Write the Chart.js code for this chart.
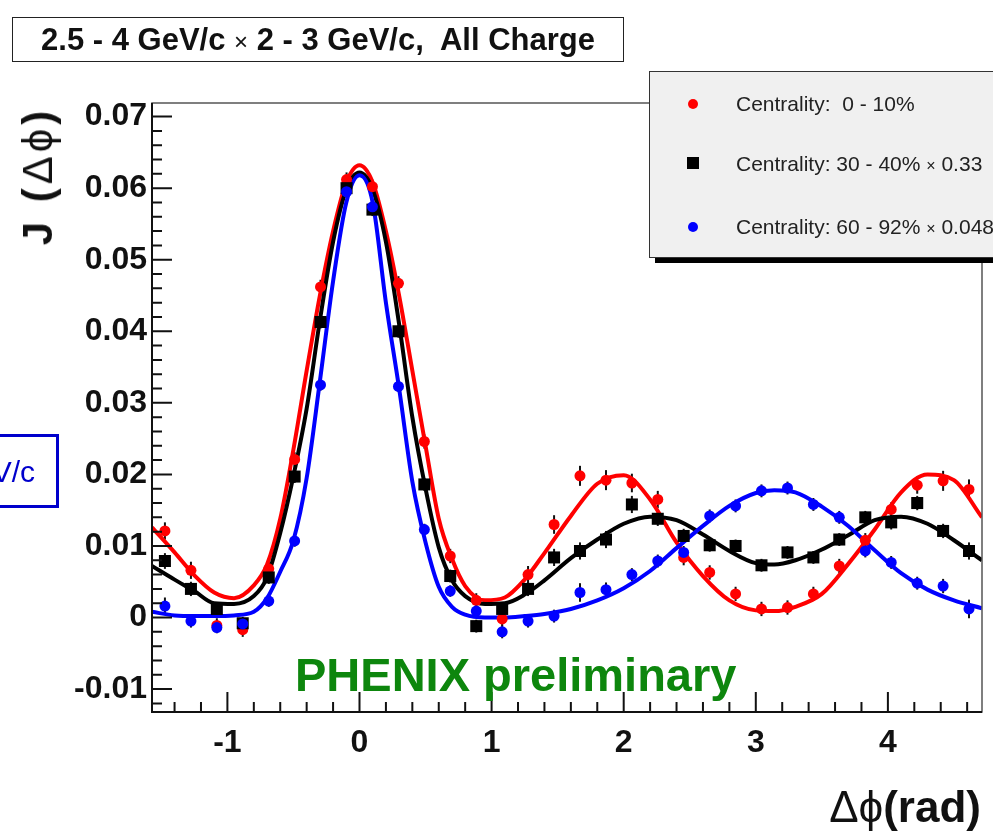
<!DOCTYPE html>
<html>
<head>
<meta charset="utf-8">
<script src="https://cdn.jsdelivr.net/npm/chart.js@4.4.1/dist/chart.umd.min.js"></script>
<style>
  body { margin: 0; background: #fff; }
  #wrap { position: relative; width: 993px; height: 840px; overflow: hidden; font-family: "Liberation Sans", Arial, sans-serif; }
  #chart { position: absolute; left: 0; top: 0; }
  .txt { position: absolute; white-space: pre; }
  #title { left: 12px; top: 17px; width: 610px; height: 43px; border: 1.5px solid #222; text-align: center;
           font-weight: bold; font-size: 31px; line-height: 43px; color: #111; }
  #legend { left: 649px; top: 71px; width: 360px; height: 185px; background: #f0f0f0; border: 1.5px solid #333;
            box-shadow: 6px 5px 0 0 #000; }
  .mk { position: absolute; }
  .lab { position: absolute; left: 86px; font-size: 21px; color: #222; line-height: 24px; white-space: pre; }
  #phenix { left: 295px; top: 647px; font-size: 47px; font-weight: bold; color: #0d860d; }
  #bluebox { left: -6px; top: 434px; width: 59px; height: 68px; border: 3px solid #0000cc; }
  #bluetxt { right: 958px; top: 455px; font-size: 30px; color: #0000cc; }
  #ytitle { left: 38px; top: 176px; transform: translate(-50%, -50%) rotate(-90deg); font-size: 42px; font-weight: bold; color: #111; letter-spacing: 4px; }
  #xtitle { right: 12px; top: 782px; font-size: 44px; color: #111; }
</style>
</head>
<body>
<div id="wrap">
  <canvas id="chart" width="993" height="840"></canvas>
  <div class="txt" id="title">2.5 - 4 GeV/c <span style="font-weight:normal;font-size:24px">×</span> 2 - 3 GeV/c,  All Charge</div>
  <div class="txt" id="legend">
    <div class="mk" style="left:38px;top:27px;width:10px;height:10px;border-radius:50%;background:#ff0000"></div>
    <div class="lab" style="top:20px">Centrality:  0 - 10%</div>
    <div class="mk" style="left:37px;top:85px;width:12px;height:12px;background:#000"></div>
    <div class="lab" style="top:80px">Centrality: 30 - 40% <span style="font-size:16px">×</span> 0.33</div>
    <div class="mk" style="left:38px;top:150px;width:10px;height:10px;border-radius:50%;background:#0000ff"></div>
    <div class="lab" style="top:143px">Centrality: 60 - 92% <span style="font-size:16px">×</span> 0.048</div>
  </div>
  <div class="txt" id="phenix">PHENIX preliminary</div>
  <div class="txt" id="bluebox"></div>
  <div class="txt" id="bluetxt">GeV/c</div>
  <div class="txt" id="ytitle">J (<span style="font-weight:normal">Δϕ</span>)</div>
  <div class="txt" id="xtitle">Δϕ<b>(rad)</b></div>
</div>
<script>
// --- DATA ---
// bin centres of the Δφ histogram (rad)
const binX = [-1.473, -1.276, -1.080, -0.884, -0.687, -0.491, -0.295, -0.098,
              0.098, 0.295, 0.491, 0.687, 0.884, 1.080, 1.276, 1.473,
              1.669, 1.866, 2.062, 2.258, 2.454, 2.651, 2.847, 3.043,
              3.240, 3.436, 3.632, 3.829, 4.025, 4.222, 4.418, 4.614];

// Centrality 0 - 10%
const red = [0.0121, 0.0066, -0.0011, -0.0017, 0.0068, 0.0221, 0.0462, 0.0612,
             0.0602, 0.0467, 0.0246, 0.0086, 0.0024, -0.0002, 0.0060, 0.0130,
             0.0198, 0.0192, 0.0188, 0.0165, 0.0084, 0.0063, 0.0033, 0.0012,
             0.0014, 0.0033, 0.0072, 0.0108, 0.0151, 0.0185, 0.0191, 0.0179];
const redErr = [0.0012, 0.0012, 0.0010, 0.0010, 0.0010, 0.0010, 0.0010, 0.0010,
                0.0010, 0.0010, 0.0010, 0.0010, 0.0010, 0.0010, 0.0012, 0.0013,
                0.0014, 0.0014, 0.0013, 0.0012, 0.0011, 0.0010, 0.0010, 0.0010,
                0.0010, 0.0010, 0.0010, 0.0010, 0.0010, 0.0012, 0.0014, 0.0014];

// Centrality 30 - 40% x 0.33
const black = [0.0079, 0.0040, 0.0012, -0.0008, 0.0056, 0.0197, 0.0413, 0.0600,
               0.0570, 0.0400, 0.0186, 0.0058, -0.0012, 0.0012, 0.0040, 0.0084,
               0.0093, 0.0109, 0.0158, 0.0138, 0.0114, 0.0101, 0.0100, 0.0073,
               0.0091, 0.0084, 0.0109, 0.0140, 0.0133, 0.0160, 0.0121, 0.0093];
const blackErr = [0.0011, 0.0010, 0.0009, 0.0009, 0.0009, 0.0009, 0.0009, 0.0009,
                  0.0009, 0.0009, 0.0009, 0.0009, 0.0009, 0.0009, 0.0010, 0.0012,
                  0.0012, 0.0012, 0.0012, 0.0010, 0.0010, 0.0009, 0.0009, 0.0009,
                  0.0009, 0.0009, 0.0009, 0.0009, 0.0010, 0.0010, 0.0010, 0.0012];

// Centrality 60 - 92% x 0.048
const blue = [0.0016, -0.0005, -0.0014, -0.0009, 0.0023, 0.0107, 0.0325, 0.0595,
              0.0574, 0.0323, 0.0123, 0.0037, 0.0009, -0.0020, -0.0005, 0.0002,
              0.0035, 0.0039, 0.0060, 0.0079, 0.0091, 0.0142, 0.0156, 0.0177,
              0.0181, 0.0158, 0.0140, 0.0093, 0.0077, 0.0048, 0.0044, 0.0012];
const blueErr = [0.0012, 0.0009, 0.0008, 0.0008, 0.0008, 0.0008, 0.0008, 0.0008,
                 0.0008, 0.0008, 0.0008, 0.0008, 0.0008, 0.0009, 0.0009, 0.0009,
                 0.0013, 0.0010, 0.0009, 0.0009, 0.0009, 0.0009, 0.0009, 0.0009,
                 0.0009, 0.0009, 0.0009, 0.0009, 0.0009, 0.0009, 0.0010, 0.0013];

// fit curves
const fitX = [-1.571, -1.4, -1.25, -1.1, -0.95, -0.8, -0.7, -0.6, -0.5, -0.4, -0.3, -0.2, -0.1, 0,
              0.1, 0.2, 0.3, 0.4, 0.5, 0.6, 0.7, 0.8, 0.95, 1.1, 1.25, 1.4, 1.6, 1.8, 2.0,
              2.2, 2.4, 2.6, 2.8, 3.0, 3.14, 3.3, 3.5, 3.7, 3.9, 4.1, 4.3, 4.5, 4.712];
const redFit = [0.0126, 0.0091, 0.0059, 0.0035, 0.0027, 0.0045, 0.0074, 0.0138, 0.0235, 0.0345, 0.0450, 0.0540, 0.0608, 0.0632,
                0.0608, 0.0540, 0.0450, 0.0345, 0.0240, 0.0138, 0.0082, 0.0044, 0.0024, 0.0028, 0.0053, 0.0090, 0.0142, 0.0187, 0.0199,
                0.0165, 0.0105, 0.0058, 0.0024, 0.0010, 0.0009, 0.0015, 0.0033, 0.0075, 0.0123, 0.0175, 0.0200, 0.0192, 0.0140];
const blackFit = [0.0072, 0.0053, 0.0037, 0.0020, 0.0019, 0.0030, 0.0056, 0.0118, 0.0198, 0.0292, 0.0415, 0.0525, 0.0598, 0.0622,
                  0.0598, 0.0525, 0.0410, 0.0280, 0.0180, 0.0098, 0.0052, 0.0030, 0.0019, 0.0020, 0.0032, 0.0052, 0.0083, 0.0109, 0.0131,
                  0.0141, 0.0136, 0.0116, 0.0093, 0.0076, 0.0074, 0.0080, 0.0095, 0.0115, 0.0136, 0.0141, 0.0131, 0.0108, 0.0080];
const blueFit = [0.0008, 0.0003, 0.0002, 0.0002, 0.0003, 0.0008, 0.0027, 0.0064, 0.0108, 0.0195, 0.0330, 0.0470, 0.0580, 0.0618,
                 0.0580, 0.0440, 0.0320, 0.0190, 0.0105, 0.0043, 0.0015, 0.0004, 0.0000, 0.0000, 0.0002, 0.0005, 0.0012, 0.0024, 0.0041,
                 0.0065, 0.0097, 0.0128, 0.0156, 0.0174, 0.0178, 0.0175, 0.0155, 0.0128, 0.0094, 0.0062, 0.0039, 0.0024, 0.0013];

const xTicks = [-1, 0, 1, 2, 3, 4];
const yTicks = [-0.01, 0, 0.01, 0.02, 0.03, 0.04, 0.05, 0.06, 0.07];

// --- HELPERS ---
const toXY = (xs, ys) => xs.map((x, i) => ({ x: x, y: ys[i] }));

function fitSet(ys, color, order) {
    return {
        type: 'line', data: toXY(fitX, ys), borderColor: color, borderWidth: 4,
        pointRadius: 0, cubicInterpolationMode: 'monotone', order: order
    };
}
function pointSet(ys, errs, color, style, radius, order) {
    return {
        type: 'scatter', data: toXY(binX, ys), errors: errs, backgroundColor: color, borderColor: color,
        pointStyle: style, pointRadius: radius, borderWidth: 0, order: order
    };
}

// error bars, inward ticks and frame
const rootStyle = {
    id: 'rootStyle',
    beforeDatasetsDraw(chart) {
        const ctx = chart.ctx, xs = chart.scales.x, ys = chart.scales.y;
        ctx.save();
        ctx.lineWidth = 2;
        ctx.strokeStyle = '#111';
        chart.data.datasets.forEach(ds => {
            if (!ds.errors) return;
            ds.data.forEach((p, j) => {
                const px = xs.getPixelForValue(p.x);
                ctx.beginPath();
                ctx.moveTo(px, ys.getPixelForValue(p.y - ds.errors[j]));
                ctx.lineTo(px, ys.getPixelForValue(p.y + ds.errors[j]));
                ctx.stroke();
            });
        });
        ctx.restore();
    },
    afterDraw(chart) {
        const ctx = chart.ctx, a = chart.chartArea, xs = chart.scales.x, ys = chart.scales.y;
        ctx.save();
        ctx.strokeStyle = '#555';
        ctx.lineWidth = 1.5;
        ctx.strokeRect(a.left, a.top, a.right - a.left, a.bottom - a.top);
        ctx.strokeStyle = '#111';
        ctx.lineWidth = 2;
        ctx.beginPath();
        ctx.moveTo(a.left, a.top); ctx.lineTo(a.left, a.bottom); ctx.lineTo(a.right, a.bottom);
        // x ticks
        for (let k = -7; k <= 23; k++) {
            const v = k * 0.2;
            if (v < xs.min || v > xs.max) continue;
            const len = Math.abs(v - Math.round(v)) < 1e-6 ? 20 : 10;
            const px = xs.getPixelForValue(v);
            ctx.moveTo(px, a.bottom); ctx.lineTo(px, a.bottom - len);
        }
        // y ticks
        for (let k = -6; k <= 35; k++) {
            const v = k * 0.002;
            if (v < ys.min || v > ys.max) continue;
            const len = k % 5 === 0 ? 20 : 10;
            const py = ys.getPixelForValue(v);
            ctx.moveTo(a.left, py); ctx.lineTo(a.left + len, py);
        }
        ctx.stroke();
        ctx.restore();
    }
};

new Chart(document.getElementById('chart'), {
    data: {
        datasets: [
            fitSet(redFit, '#ff0000', 6),
            fitSet(blackFit, '#000000', 5),
            fitSet(blueFit, '#0000ff', 4),
            pointSet(red, redErr, '#ff0000', 'circle', 5.5, 3),
            pointSet(black, blackErr, '#000000', 'rect', 8.5, 2),
            pointSet(blue, blueErr, '#0000ff', 'circle', 5.5, 1)
        ]
    },
    options: {
        responsive: false,
        animation: false,
        layout: { padding: { top: 103, right: 11, left: 0, bottom: 0 } },
        plugins: { legend: { display: false }, tooltip: { enabled: false } },
        scales: {
            x: {
                type: 'linear', min: -Math.PI / 2, max: 3 * Math.PI / 2,
                grid: { display: false, drawTicks: false }, border: { display: false },
                afterFit: s => { s.height = 128; },
                afterBuildTicks: s => { s.ticks = xTicks.map(v => ({ value: v })); },
                ticks: {
                    autoSkip: false, maxRotation: 0, padding: 12, color: '#111',
                    font: { family: '"Liberation Sans", Arial', size: 32, weight: 'bold' }
                }
            },
            y: {
                type: 'linear', min: -0.0132, max: 0.0719,
                grid: { display: false, drawTicks: false }, border: { display: false },
                afterFit: s => { s.width = 152; },
                afterBuildTicks: s => { s.ticks = yTicks.map(v => ({ value: v })); },
                ticks: {
                    autoSkip: false, padding: 5, color: '#111',
                    font: { family: '"Liberation Sans", Arial', size: 32, weight: 'bold' },
                    callback: v => String(parseFloat(v.toFixed(2)))
                }
            }
        }
    },
    plugins: [rootStyle]
});
</script>
</body>
</html>
